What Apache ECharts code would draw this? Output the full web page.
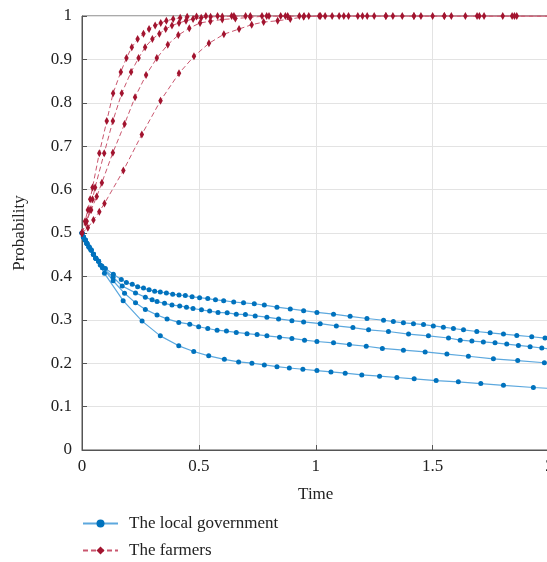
<!DOCTYPE html>
<html><head><meta charset="utf-8">
<script src="https://cdn.jsdelivr.net/npm/echarts@6/dist/echarts.min.js"></script>
<style>html,body{margin:0;padding:0;background:#fff}#c{width:547px;height:562px}</style>
</head><body><div id="c"></div>
<script>
// Tick labels
var xTicks = ['0', '0.5', '1', '1.5', '2'];
var yTicks = ['0', '0.1', '0.2', '0.3', '0.4', '0.5', '0.6', '0.7', '0.8', '0.9', '1'];
var legendNames = ['The local government', 'The farmers'];

// The local government: [time, probability]
var gov1 = [[0,0.5],[0.006,0.491],[0.014,0.484],[0.021,0.476],[0.03,0.468],[0.039,0.461],[0.049,0.451],[0.059,0.442],[0.071,0.435],[0.085,0.424],[0.1,0.418],[0.134,0.405],[0.168,0.393],[0.19,0.386],[0.215,0.382],[0.238,0.376],[0.263,0.373],[0.287,0.369],[0.311,0.366],[0.335,0.364],[0.361,0.362],[0.388,0.359],[0.415,0.357],[0.442,0.356],[0.471,0.353],[0.503,0.351],[0.538,0.349],[0.571,0.346],[0.606,0.344],[0.649,0.341],[0.691,0.339],[0.737,0.337],[0.78,0.334],[0.834,0.329],[0.891,0.325],[0.948,0.321],[1.005,0.317],[1.076,0.313],[1.147,0.308],[1.219,0.303],[1.29,0.299],[1.332,0.296],[1.375,0.293],[1.418,0.291],[1.461,0.289],[1.503,0.286],[1.546,0.283],[1.589,0.28],[1.632,0.277],[1.689,0.273],[1.746,0.27],[1.803,0.267],[1.86,0.264],[1.924,0.261],[1.981,0.258],[2,0.257]];
var gov2 = [[0,0.5],[0.006,0.491],[0.014,0.484],[0.021,0.476],[0.03,0.468],[0.039,0.461],[0.049,0.451],[0.059,0.442],[0.071,0.435],[0.088,0.42],[0.133,0.398],[0.172,0.378],[0.229,0.362],[0.271,0.352],[0.3,0.346],[0.321,0.342],[0.353,0.338],[0.385,0.334],[0.418,0.332],[0.447,0.329],[0.475,0.326],[0.511,0.323],[0.546,0.32],[0.582,0.317],[0.621,0.316],[0.66,0.313],[0.699,0.312],[0.741,0.309],[0.791,0.306],[0.841,0.302],[0.898,0.298],[0.948,0.295],[1.019,0.291],[1.088,0.286],[1.159,0.282],[1.226,0.277],[1.311,0.273],[1.397,0.267],[1.482,0.263],[1.568,0.258],[1.618,0.253],[1.668,0.251],[1.717,0.249],[1.767,0.247],[1.817,0.244],[1.867,0.241],[1.917,0.238],[1.967,0.235],[2,0.233]];
var gov3 = [[0,0.5],[0.006,0.491],[0.014,0.484],[0.021,0.476],[0.03,0.468],[0.039,0.461],[0.049,0.451],[0.059,0.442],[0.071,0.435],[0.088,0.42],[0.133,0.39],[0.182,0.361],[0.229,0.339],[0.271,0.324],[0.321,0.311],[0.364,0.302],[0.414,0.294],[0.461,0.29],[0.499,0.284],[0.538,0.28],[0.578,0.276],[0.618,0.274],[0.66,0.271],[0.706,0.268],[0.749,0.266],[0.791,0.263],[0.845,0.26],[0.898,0.257],[0.952,0.253],[1.005,0.25],[1.076,0.247],[1.144,0.243],[1.216,0.239],[1.285,0.234],[1.375,0.23],[1.468,0.226],[1.561,0.221],[1.653,0.216],[1.76,0.21],[1.864,0.206],[1.978,0.201],[2,0.2]];
var gov4 = [[0,0.5],[0.006,0.491],[0.014,0.484],[0.021,0.476],[0.03,0.468],[0.039,0.461],[0.049,0.451],[0.059,0.442],[0.078,0.426],[0.096,0.407],[0.176,0.344],[0.257,0.297],[0.335,0.263],[0.414,0.24],[0.478,0.227],[0.542,0.217],[0.609,0.209],[0.67,0.203],[0.727,0.2],[0.78,0.196],[0.834,0.192],[0.887,0.189],[0.945,0.186],[1.005,0.183],[1.065,0.18],[1.126,0.177],[1.197,0.173],[1.273,0.17],[1.347,0.167],[1.421,0.164],[1.515,0.16],[1.61,0.157],[1.706,0.153],[1.803,0.149],[1.931,0.144],[2,0.142]];

// The farmers: [time, probability]
var farm1 = [[0,0.5],[0.013,0.527],[0.025,0.553],[0.035,0.578],[0.045,0.605],[0.074,0.684],[0.106,0.758],[0.133,0.822],[0.166,0.871],[0.19,0.903],[0.213,0.928],[0.238,0.947],[0.263,0.959],[0.287,0.97],[0.313,0.978],[0.337,0.984],[0.361,0.989],[0.39,0.993],[0.42,0.996],[0.45,0.998],[0.49,0.999],[0.53,1],[0.58,1],[0.64,1],[0.7,1],[0.77,1],[0.85,1],[0.93,1],[1.02,1],[1.12,1],[1.22,1],[1.33,1],[1.45,1],[1.58,1],[1.72,1],[1.86,1],[2,1]];
var farm2 = [[0,0.5],[0.02,0.527],[0.034,0.553],[0.045,0.578],[0.056,0.605],[0.095,0.684],[0.132,0.758],[0.17,0.822],[0.21,0.871],[0.242,0.903],[0.27,0.928],[0.301,0.947],[0.331,0.959],[0.358,0.97],[0.385,0.978],[0.415,0.984],[0.445,0.989],[0.475,0.993],[0.51,0.996],[0.55,0.998],[0.6,0.999],[0.65,1],[0.72,1],[0.8,1],[0.88,1],[0.97,1],[1.07,1],[1.18,1],[1.3,1],[1.42,1],[1.55,1],[1.69,1],[1.84,1],[2,1]];
var farm3 = [[0,0.5],[0.016,0.523],[0.039,0.553],[0.063,0.584],[0.085,0.616],[0.132,0.685],[0.182,0.751],[0.227,0.813],[0.274,0.864],[0.32,0.903],[0.367,0.934],[0.412,0.956],[0.459,0.972],[0.505,0.984],[0.549,0.988],[0.6,0.992],[0.656,0.994],[0.72,0.997],[0.79,1],[0.87,1],[0.95,1],[1.04,1],[1.14,1],[1.25,1],[1.37,1],[1.5,1],[1.64,1],[1.8,1],[2,1]];
var farm4 = [[0,0.5],[0.025,0.512],[0.049,0.53],[0.074,0.549],[0.096,0.568],[0.177,0.644],[0.256,0.727],[0.336,0.805],[0.415,0.868],[0.479,0.907],[0.543,0.937],[0.607,0.958],[0.672,0.97],[0.726,0.98],[0.777,0.986],[0.837,0.989],[0.891,0.993],[0.948,0.998],[1.015,1],[1.1,1],[1.2,1],[1.3,1],[1.42,1],[1.55,1],[1.7,1],[1.85,1],[2,1]];

var govSeries = [gov1, gov2, gov3, gov4];
var farmSeries = [farm1, farm2, farm3, farm4];

var FONT = '"Liberation Serif", "DejaVu Serif", serif';
var BLUE = '#0072BD', BLUE_LINE = '#5CA8DE';
var RED = '#A2142F', RED_LINE = '#C9566E';
var DIAMOND = 'path://M0,-10L3,0L0,10L-3,0Z';

var series = [];
govSeries.forEach(function (d) {
  series.push({
    name: legendNames[0], type: 'line', data: d,
    symbol: 'circle', symbolSize: 5,
    itemStyle: { color: BLUE },
    lineStyle: { color: BLUE_LINE, width: 1.2 },
    z: 3, animation: false
  });
});
farmSeries.forEach(function (d) {
  series.push({
    name: legendNames[1], type: 'line', data: d,
    symbol: DIAMOND, symbolSize: [4.5, 8],
    itemStyle: { color: RED },
    lineStyle: { color: RED_LINE, width: 1, type: [5, 3] },
    z: 4, animation: false
  });
});

var legendText = { fontFamily: FONT, fontSize: 17, color: '#222', padding: [0, 0, 0, 6] };
var chart = echarts.init(document.getElementById('c'), null, { renderer: 'canvas' });
chart.setOption({
  backgroundColor: '#fff',
  animation: false,
  grid: { left: 82, top: 16, width: 467.5, height: 434, outerBoundsMode: 'none', containLabel: false,
    show: true, borderColor: '#555', borderWidth: 1, backgroundColor: 'transparent' },
  legend: [
    { orient: 'horizontal', left: 82, top: 515, padding: 0, itemWidth: 35, itemHeight: 10,
      data: [legendNames[0]], textStyle: legendText },
    { orient: 'horizontal', left: 82, top: 542, padding: 0, itemWidth: 35, itemHeight: 10,
      data: [legendNames[1]], textStyle: legendText }
  ],
  xAxis: {
    type: 'value', min: 0, max: 2, interval: 0.5,
    name: 'Time', nameLocation: 'middle', nameGap: 36,
    nameTextStyle: { fontFamily: FONT, fontSize: 17, color: '#222' },
    axisLine: { show: true, lineStyle: { color: '#555', width: 1 } },
    axisTick: { show: true, inside: true, length: 5, lineStyle: { color: '#555' } },
    axisLabel: { fontFamily: FONT, fontSize: 17, color: '#222', margin: 8,
      formatter: function (v) { return xTicks[Math.round(v / 0.5)]; } },
    splitLine: { show: true, lineStyle: { color: '#e3e3e3', width: 1 } }
  },
  yAxis: {
    type: 'value', min: 0, max: 1, interval: 0.1,
    name: 'Probability', nameLocation: 'middle', nameGap: 54,
    nameTextStyle: { fontFamily: FONT, fontSize: 17, color: '#222' },
    axisLine: { show: true, lineStyle: { color: '#555', width: 1 } },
    axisTick: { show: true, inside: true, length: 5, lineStyle: { color: '#555' } },
    axisLabel: { fontFamily: FONT, fontSize: 17, color: '#222', margin: 10,
      formatter: function (v) { return yTicks[Math.round(v * 10)]; } },
    splitLine: { show: true, lineStyle: { color: '#e3e3e3', width: 1 } }
  },
  series: series
});
</script></body></html>
